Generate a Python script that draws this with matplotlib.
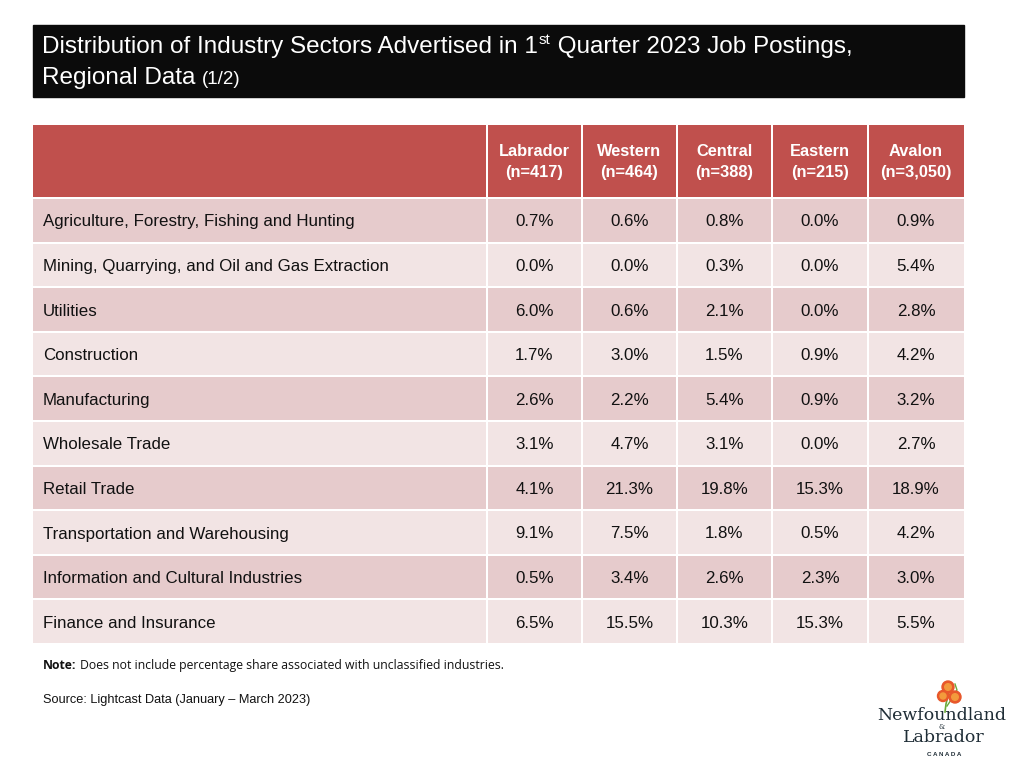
import matplotlib
matplotlib.use('Agg')
import matplotlib.pyplot as plt
from matplotlib.patches import Rectangle, Circle

# table data
regions = ['Labrador', 'Western', 'Central', 'Eastern', 'Avalon']
sizes = ['417', '464', '388', '215', '3,050']
sectors = ['Agriculture, Forestry, Fishing and Hunting',
           'Mining, Quarrying, and Oil and Gas Extraction',
           'Utilities',
           'Construction',
           'Manufacturing',
           'Wholesale Trade',
           'Retail Trade',
           'Transportation and Warehousing',
           'Information and Cultural Industries',
           'Finance and Insurance']
labrador = [0.7, 0.0, 6.0, 1.7, 2.6, 3.1, 4.1, 9.1, 0.5, 6.5]
western = [0.6, 0.0, 0.6, 3.0, 2.2, 4.7, 21.3, 7.5, 3.4, 15.5]
central = [0.8, 0.3, 2.1, 1.5, 5.4, 3.1, 19.8, 1.8, 2.6, 10.3]
eastern = [0.0, 0.0, 0.0, 0.9, 0.9, 0.0, 15.3, 0.5, 2.3, 15.3]
avalon = [0.9, 5.4, 2.8, 4.2, 3.2, 2.7, 18.9, 4.2, 3.0, 5.5]
columns = [labrador, western, central, eastern, avalon]

FONT = 'Liberation Sans'
W, H = 1024, 768
fig = plt.figure(figsize=(W / 100, H / 100), dpi=100)
ax = fig.add_axes([0, 0, 1, 1])
ax.set_xlim(0, W)
ax.set_ylim(H, 0)
ax.axis('off')
renderer = fig.canvas.get_renderer()


def text_width(t):
    bb = t.get_window_extent(renderer=renderer)
    return bb.width


# title bar
ax.add_patch(Rectangle((33, 25), 931, 72, color='#0b0b0b', zorder=1))
t1 = ax.text(42, 47, 'Distribution of Industry Sectors Advertised in 1', color='white',
             fontsize=17.5, family=FONT, va='center', zorder=2)
x = 42 + text_width(t1)
t2 = ax.text(x + 1, 40, 'st', color='white', fontsize=11, family=FONT, va='center', zorder=2)
x += text_width(t2) + 1
ax.text(x, 47, ' Quarter 2023 Job Postings,', color='white', fontsize=17.5, family=FONT,
        va='center', zorder=2)
t3 = ax.text(42, 78, 'Regional Data ', color='white', fontsize=17.5, family=FONT,
             va='center', zorder=2)
ax.text(42 + text_width(t3), 79, '(1/2)', color='white', fontsize=13.5, family=FONT,
        va='center', zorder=2)

# table geometry
edges = [33, 487, 582, 677, 772, 868, 964]
head_top, head_bot = 125, 197
row_top = 199
row_h = (645 - 199) / len(sectors)
gap = 2

# header
for i in range(len(edges) - 1):
    ax.add_patch(Rectangle((edges[i] + (gap / 2 if i else 0), head_top),
                           edges[i + 1] - edges[i] - (gap / 2 if i else 0) - (gap / 2 if i < 5 else 0),
                           head_bot - head_top, color='#c0504d', lw=0))
for j, (reg, n) in enumerate(zip(regions, sizes)):
    cx = (edges[j + 1] + edges[j + 2]) / 2
    ax.text(cx, 152, reg, color='white', fontsize=11.8, fontweight='bold', family=FONT,
            ha='center', va='center')
    ax.text(cx, 172, '(n=' + n + ')', color='white', fontsize=11.8, fontweight='bold',
            family=FONT, ha='center', va='center')

# body
for r, sector in enumerate(sectors):
    y0 = row_top + r * row_h
    fill = '#e6cbcc' if r % 2 == 0 else '#f2e4e4'
    for i in range(len(edges) - 1):
        left = edges[i] + (gap / 2 if i else 0)
        right = edges[i + 1] - (gap / 2 if i < 5 else 0)
        ax.add_patch(Rectangle((left, y0), right - left, row_h - gap, color=fill, lw=0))
    cy = y0 + (row_h - gap) / 2 + 1.5
    ax.text(43, cy, sector, fontsize=12.2, family=FONT, color='#111111', va='center')
    for j, col in enumerate(columns):
        cx = (edges[j + 1] + edges[j + 2]) / 2
        ax.text(cx, cy, f'{col[r]:.1f}%', fontsize=12.2, family=FONT, color='#111111',
                ha='center', va='center')

# notes
tn = ax.text(43, 669, 'Note:', fontsize=8.8, fontweight='bold', family='Open Sans',
             color='#111111', va='baseline')
ax.text(43 + text_width(tn) + 3, 669, 'Does not include percentage share associated with unclassified industries.',
        fontsize=8.8, family='Open Sans', color='#111111', va='baseline')
ax.text(43, 700, 'Source: Lightcast Data (January \u2013 March 2023)', fontsize=9.2, family=FONT,
        color='#111111', va='center')

# logo
stem = '#6aaa3a'
ax.plot([950, 948, 946, 945], [686, 696, 704, 712], color=stem, lw=1.2)
ax.plot([955, 957, 953, 947], [684, 690, 697, 706], color=stem, lw=1.0)
for cx, cy, rr in [(948, 687, 6), (955, 697, 6), (943, 696, 5.5)]:
    ax.add_patch(Circle((cx, cy), rr, color='#e8572a', zorder=5))
    ax.add_patch(Circle((cx, cy), rr * 0.55, color='#f39a3c', zorder=6))
ax.text(942, 716, 'Newfoundland', fontsize=12.5, family='DejaVu Serif', color='#1f2d36',
        ha='center', va='center', zorder=7)
ax.text(942, 727, '&', fontsize=5, family='DejaVu Serif', color='#1f2d36',
        ha='center', va='center')
ax.text(944, 738, 'Labrador', fontsize=12.5, family='DejaVu Serif', color='#1f2d36',
        ha='center', va='center')
ax.text(944, 754, 'C A N A D A', fontsize=4.5, fontweight='bold', family=FONT,
        color='#1f2d36', ha='center', va='center')

fig.savefig('out.png', dpi=100, facecolor='white')
